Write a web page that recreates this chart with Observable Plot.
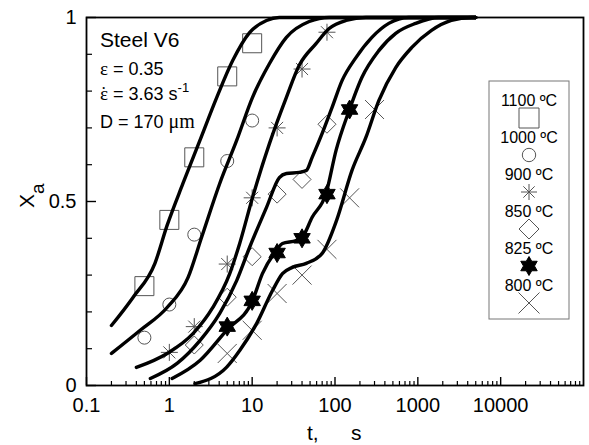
<!DOCTYPE html>
<html>
<head>
<meta charset="utf-8">
<script src="https://cdn.jsdelivr.net/npm/d3@7"></script>
<script src="https://cdn.jsdelivr.net/npm/@observablehq/plot@0.6"></script>
<style>
  html, body { margin: 0; padding: 0; background: #fff; }
</style>
</head>
<body>
<div id="chart"></div>
<script>
// ---------- data ----------
const temps = ["1100 ºC", "1000 ºC", "900 ºC", "850 ºC", "825 ºC", "800 ºC"];

// measured points (markers)
const m1100_t = [0.5, 1, 2, 5, 10];
const m1100_x = [0.27, 0.45, 0.62, 0.84, 0.93];
const m1000_t = [0.5, 1, 2, 5, 10];
const m1000_x = [0.13, 0.22, 0.41, 0.61, 0.72];
const m900_t = [1, 2, 5, 10, 20, 40, 80];
const m900_x = [0.09, 0.16, 0.33, 0.51, 0.70, 0.86, 0.96];
const m850_t = [2, 5, 10, 20, 40, 80];
const m850_x = [0.11, 0.24, 0.35, 0.52, 0.56, 0.71];
const m825_t = [5, 10, 20, 40, 80, 150];
const m825_x = [0.16, 0.23, 0.36, 0.40, 0.52, 0.75];
const m800_t = [5, 10, 20, 40, 80, 150, 300];
const m800_x = [0.087, 0.15, 0.25, 0.30, 0.37, 0.51, 0.75];

// model curves (thick lines)
const c1100_t = [0.2, 0.366, 0.67, 0.94, 1.46, 2.34, 3.74, 5.82, 9.3, 14.9, 21.3, 5000];
const c1100_x = [0.163, 0.24, 0.332, 0.435, 0.549, 0.666, 0.783, 0.883, 0.959, 0.992, 1, 1];
const c1000_t = [0.2, 0.445, 0.94, 1.68, 2.47, 4.06, 6.5, 10.1, 16.2, 25.9, 48.9, 85, 5000];
const c1000_x = [0.087, 0.15, 0.212, 0.293, 0.405, 0.549, 0.666, 0.783, 0.875, 0.946, 0.989, 1, 1];
const c900_t = [0.4, 0.94, 1.93, 3.35, 5.36, 7.07, 10.1, 16.2, 25.9, 37, 59, 85, 136, 236, 5000];
const c900_x = [0.049, 0.087, 0.141, 0.212, 0.304, 0.386, 0.511, 0.658, 0.783, 0.87, 0.929, 0.97, 0.992, 1, 1];
const c850_t = [0.59, 1.24, 2.34, 4.06, 6.5, 9.3, 14.9, 21.3, 25.9, 37, 45, 53, 70, 92, 122, 179, 279, 446, 776, 5000];
const c850_x = [0.019, 0.06, 0.122, 0.196, 0.285, 0.375, 0.484, 0.565, 0.576, 0.579, 0.584, 0.62, 0.685, 0.755, 0.829, 0.891, 0.946, 0.984, 1, 1];
const c825_t = [1.08, 2.34, 4.9, 10.1, 13.3, 19.6, 23.2, 34, 40, 53, 78, 103, 148, 211, 338, 541, 942, 1778, 5000];
const c825_x = [0.019, 0.068, 0.15, 0.231, 0.304, 0.367, 0.386, 0.394, 0.402, 0.457, 0.522, 0.639, 0.747, 0.837, 0.91, 0.957, 0.984, 1, 1];
const c800_t = [2.04, 4.93, 7.07, 11.3, 17.6, 23.2, 30.5, 45, 70, 105, 160, 236, 338, 541, 841, 1462, 2541, 4416, 5000];
const c800_x = [0.005, 0.05, 0.095, 0.168, 0.258, 0.304, 0.321, 0.332, 0.359, 0.45, 0.584, 0.674, 0.774, 0.864, 0.918, 0.965, 0.992, 1, 1];

// axis ticks
const xTickLabels = [0.1, 1, 10, 100, 1000, 10000];
const yTickLabels = [0, 0.5, 1];
const xMinor = [];
for (let e = -1; e <= 4; e++) for (let k = 2; k <= 9; k++) xMinor.push(+(k * Math.pow(10, e)).toPrecision(3));
const yMinor = [0.1, 0.2, 0.3, 0.4, 0.6, 0.7, 0.8, 0.9];

// ---------- symbols ----------
const R = s => Math.sqrt(s / Math.PI);
const symSquare = {draw(c, s) { const r = R(s); c.moveTo(-r, -r); c.lineTo(r, -r); c.lineTo(r, r); c.lineTo(-r, r); c.closePath(); }};
const symCircle = {draw(c, s) { const r = R(s); c.moveTo(r, 0); c.arc(0, 0, r, 0, 2 * Math.PI); }};
const symAster = {draw(c, s) { const r = R(s), d = r * Math.SQRT1_2;
  c.moveTo(-r, 0); c.lineTo(r, 0); c.moveTo(0, -r); c.lineTo(0, r);
  c.moveTo(-d, -d); c.lineTo(d, d); c.moveTo(-d, d); c.lineTo(d, -d); }};
const symDiamond = {draw(c, s) { const r = R(s); c.moveTo(0, -r); c.lineTo(r, 0); c.lineTo(0, r); c.lineTo(-r, 0); c.closePath(); }};
const symStar6 = {draw(c, s) { const r = R(s), ri = r / Math.sqrt(3);
  for (let i = 0; i < 12; i++) { const a = -Math.PI / 2 + i * Math.PI / 6, rr = i % 2 ? ri : r;
    const x = rr * Math.cos(a), y = rr * Math.sin(a); i ? c.lineTo(x, y) : c.moveTo(x, y); }
  c.closePath(); }};
const symTimes = {draw(c, s) { const r = R(s); c.moveTo(-r, -r); c.lineTo(r, r); c.moveTo(-r, r); c.lineTo(r, -r); }};

const zip = (t, x) => t.map((v, i) => ({t: v, x: x[i]}));
const meas = [
  {d: zip(m1100_t, m1100_x), sym: symSquare, r: 9.5, fill: "none"},
  {d: zip(m1000_t, m1000_x), sym: symCircle, r: 6.5, fill: "none"},
  {d: zip(m900_t, m900_x), sym: symAster, r: 8.5, fill: "none"},
  {d: zip(m850_t, m850_x), sym: symDiamond, r: 9, fill: "none"},
  {d: zip(m825_t, m825_x), sym: symStar6, r: 9.5, fill: "black"},
  {d: zip(m800_t, m800_x), sym: symTimes, r: 9.5, fill: "none"}
];
const curves = [zip(c1100_t, c1100_x), zip(c1000_t, c1000_x), zip(c900_t, c900_x),
                zip(c850_t, c850_x), zip(c825_t, c825_x), zip(c800_t, c800_x)];

const FW = 589 - 86 - 6, FH = 445 - 17 - 60;

const marks = [];
meas.forEach(m => marks.push(Plot.dot(m.d, {x: "t", y: "x", symbol: m.sym, r: m.r,
  stroke: m.fill === "black" ? "black" : "#555", fill: m.fill, strokeWidth: 1})));
curves.forEach(c => marks.push(Plot.line(c, {x: "t", y: "x", curve: "monotone-x",
  stroke: "black", strokeWidth: 3.4})));
marks.push(
  Plot.ruleX(xMinor, {x: d => d, insetTop: FH - 4, stroke: "black", strokeWidth: 1.2}),
  Plot.ruleX(xTickLabels, {x: d => d, insetTop: FH - 8, stroke: "black", strokeWidth: 1.4}),
  Plot.ruleY(yMinor, {y: d => d, insetRight: FW - 6, stroke: "black", strokeWidth: 1.2}),
  Plot.ruleY(yTickLabels, {y: d => d, insetRight: FW - 10, stroke: "black", strokeWidth: 1.4}),
  Plot.frame({stroke: "black", strokeWidth: 1.8}),
  Plot.axisX({ticks: xTickLabels, tickFormat: d => String(d), tickSize: 0, tickPadding: 12, label: null}),
  Plot.axisY({ticks: yTickLabels, tickFormat: d => String(d), tickSize: 0, tickPadding: 10, label: null})
);

const svg = Plot.plot({
  width: 589, height: 445,
  marginLeft: 86, marginRight: 6, marginTop: 17, marginBottom: 60,
  style: {fontFamily: "'Liberation Sans', Arial, sans-serif", fontSize: "20px", background: "#fff", color: "black"},
  x: {type: "log", domain: [0.1, 1e5]},
  y: {domain: [0, 1]},
  marks
});
document.getElementById("chart").appendChild(svg);

// ---------- annotations ----------
const s = d3.select(svg);
const ff = "'Liberation Sans', Arial, sans-serif";
const serif = "'Liberation Serif', 'Times New Roman', serif";
const g = s.append("g").attr("font-family", ff).attr("fill", "black").attr("text-anchor", "start");

g.append("text").attr("x", 100).attr("y", 47).attr("font-size", 21).text("Steel V6");
const t1 = g.append("text").attr("x", 100).attr("y", 75).attr("font-size", 18);
t1.append("tspan").attr("font-family", serif).attr("font-size", 19).text("ε");
t1.append("tspan").text(" = 0.35");
const t2 = g.append("text").attr("x", 100).attr("y", 100).attr("font-size", 18);
t2.append("tspan").attr("font-family", serif).attr("font-size", 19).text("ε");
t2.append("tspan").attr("font-family", serif).attr("font-size", 19).attr("dx", -7.4).text("\u02D9");
t2.append("tspan").attr("dx", 1.1).text(" = 3.63 s");
t2.append("tspan").attr("font-size", 13).attr("dy", -8).text("-1");
const t3 = g.append("text").attr("x", 100).attr("y", 128).attr("font-size", 18);
t3.append("tspan").text("D = 170 ");
t3.append("tspan").attr("font-family", serif).attr("font-size", 20).text("μm");

// axis titles
const yl = g.append("text").attr("transform", "translate(34,208) rotate(-90)").attr("font-size", 21);
yl.append("tspan").text("X");
yl.append("tspan").attr("font-size", 19).attr("dy", 10).text("a");
g.append("text").attr("x", 307).attr("y", 440).attr("font-size", 21).text("t,");
g.append("text").attr("x", 351).attr("y", 440).attr("font-size", 21).text("s");

// legend
const lg = s.append("g").attr("font-family", ff);
lg.append("rect").attr("x", 489).attr("y", 81).attr("width", 80).attr("height", 238)
  .attr("fill", "white").attr("stroke", "#777").attr("stroke-width", 1);
const legSyms = [
  {sym: symSquare, r: 10, fill: "none"}, {sym: symCircle, r: 6.7, fill: "none"},
  {sym: symAster, r: 8, fill: "none"}, {sym: symDiamond, r: 10, fill: "none"},
  {sym: symStar6, r: 9.5, fill: "black"}, {sym: symTimes, r: 10.5, fill: "none"}
];
temps.forEach((lab, i) => {
  lg.append("text").attr("x", 529).attr("y", 106 + 37 * i).attr("text-anchor", "middle")
    .attr("font-size", 16).attr("fill", "black").text(lab);
  const ls = legSyms[i];
  lg.append("path").attr("transform", `translate(529,${118 + 37 * i})`)
    .attr("d", d3.symbol().type(ls.sym).size(Math.PI * ls.r * ls.r)())
    .attr("fill", ls.fill).attr("stroke", ls.fill === "black" ? "black" : "#555").attr("stroke-width", 1);
});
</script>
</body>
</html>
